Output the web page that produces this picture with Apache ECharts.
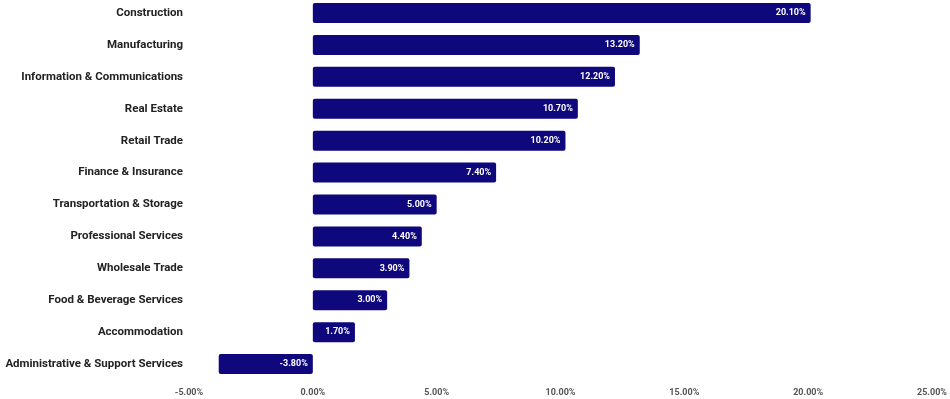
<!DOCTYPE html>
<html>
<head>
<meta charset="utf-8">
<script src="https://cdn.jsdelivr.net/npm/echarts@6/dist/echarts.min.js"></script>
<style>
  html, body { margin: 0; padding: 0; background: #fff; }
  #chart { width: 950px; height: 399px; }
</style>
</head>
<body>
<div id="chart"></div>
<script>
(function() {
    // data, top to bottom as in the picture
    var categories = [
        'Construction',
        'Manufacturing',
        'Information & Communications',
        'Real Estate',
        'Retail Trade',
        'Finance & Insurance',
        'Transportation & Storage',
        'Professional Services',
        'Wholesale Trade',
        'Food & Beverage Services',
        'Accommodation',
        'Administrative & Support Services'
    ];
    var growth = [20.1, 13.2, 12.2, 10.7, 10.2, 7.4, 5.0, 4.4, 3.9, 3.0, 1.7, -3.8];

    var chart = echarts.init(document.getElementById('chart'));

    var option = {
        animation: false,
        grid: { left: 189, right: 18, top: -3, bottom: 19, containLabel: false, outerBoundsMode: 'none' },
        xAxis: {
            type: 'value',
            min: -5,
            max: 25,
            interval: 5,
            splitLine: { show: false },
            axisLine: { show: false },
            axisTick: { show: false },
            axisLabel: {
                formatter: function(v) { return v.toFixed(2) + '%'; },
                color: '#555',
                fontFamily: 'Roboto',
                fontWeight: 'bold',
                fontSize: 9,
                margin: 8
            }
        },
        yAxis: {
            type: 'category',
            inverse: true,
            data: categories,
            axisLine: { show: false, onZero: false },
            axisTick: { show: false },
            axisLabel: {
                color: '#222',
                fontFamily: 'Roboto',
                fontWeight: 'bold',
                fontSize: 11.5,
                margin: 6
            }
        },
        series: [{
            type: 'bar',
            data: growth,
            barWidth: 20,
            itemStyle: { color: '#0f077c', borderRadius: 2 },
            label: {
                show: true,
                position: 'insideRight',
                formatter: function(p) { return p.value.toFixed(2) + '%'; },
                color: '#fff',
                fontFamily: 'Roboto',
                fontWeight: 'bold',
                fontSize: 9
            }
        }]
    };

    chart.setOption(option);
})();
</script>
</body>
</html>
